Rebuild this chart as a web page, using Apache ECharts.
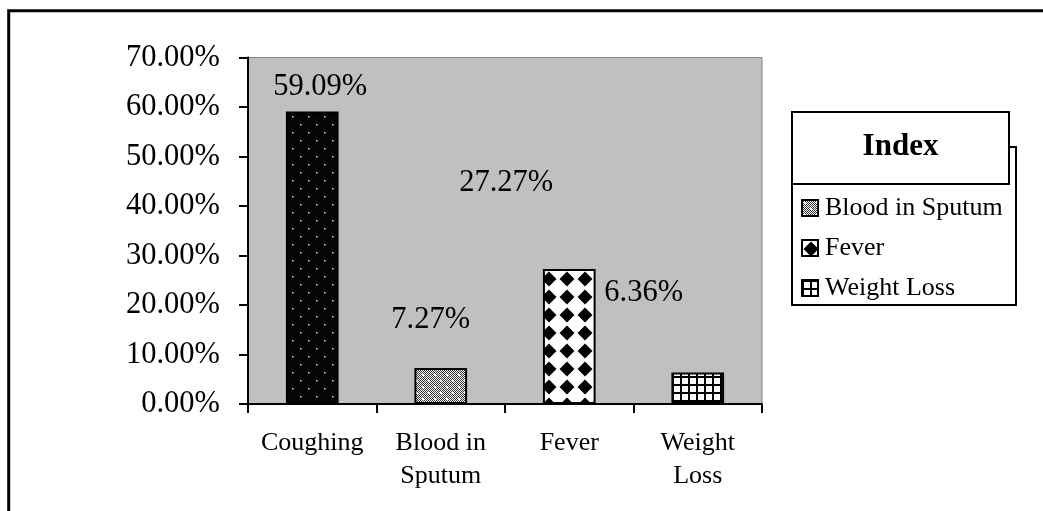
<!DOCTYPE html>
<html>
<head>
<meta charset="utf-8">
<style>
html,body{margin:0;padding:0;background:#fff;}
#chart{width:1043px;height:511px;}
</style>
<script src="https://cdn.jsdelivr.net/npm/echarts@6/dist/echarts.min.js"></script>
</head>
<body>
<div id="chart"></div>
<script>
// ---- data ----
const categories = ['Coughing', 'Blood in Sputum', 'Fever', 'Weight Loss'];
const axisLabels = ['Coughing', 'Blood in\nSputum', 'Fever', 'Weight\nLoss'];
const values = [59.09, 7.27, 27.27, 6.36];
const legendItems = ['Blood in Sputum', 'Fever', 'Weight Loss'];
const yMin = 0, yMax = 70, yInterval = 10;

// ---- style (label placement as drawn in the source) ----
const labelOffsets = [[8, -4], [-10, -28], [-63, -66], [-54, -59]];

function makeTile(w, h, draw) {
  const c = document.createElement('canvas');
  c.width = w; c.height = h;
  draw(c.getContext('2d'), w, h);
  return { image: c, repeat: 'repeat' };
}
const patterns = [
  // Coughing: black with sparse white dots
  makeTile(16, 16, (g, w, h) => {
    g.fillStyle = '#050505'; g.fillRect(0, 0, w, h);
    g.fillStyle = '#e0e0e0';
    g.fillRect(4, 4, 1.5, 1.5); g.fillRect(12, 12, 1.5, 1.5);
  }),
  // Blood in Sputum: fine checker with white dots
  makeTile(12, 12, (g, w, h) => {
    g.fillStyle = '#ffffff'; g.fillRect(0, 0, w, h);
    g.fillStyle = '#303030';
    for (let y = 0; y < h; y++) for (let x = 0; x < w; x++) if ((x + y) % 2 === 0) g.fillRect(x, y, 1, 1);
    g.fillStyle = '#ffffff';
    g.fillRect(2, 2, 2, 2); g.fillRect(8, 8, 2, 2);
  }),
  // Fever: diamonds
  makeTile(18, 18, (g, w, h) => {
    g.fillStyle = '#ffffff'; g.fillRect(0, 0, w, h);
    g.fillStyle = '#000000';
    g.beginPath();
    g.moveTo(9, 1.5); g.lineTo(16.5, 9); g.lineTo(9, 16.5); g.lineTo(1.5, 9); g.closePath();
    g.fill();
  }),
  // Weight Loss: grid
  makeTile(8, 8, (g, w, h) => {
    g.fillStyle = '#ffffff'; g.fillRect(0, 0, w, h);
    g.fillStyle = '#000000';
    g.fillRect(0, 0, 2, h); g.fillRect(0, 0, w, 2);
  })
];

const serif = '"Liberation Serif", "Times New Roman", serif';

const series = categories.map((name, i) => ({
  name: name,
  type: 'bar',
  stack: 'total',
  barWidth: '41%',
  data: categories.map((c, j) => (j === i ? values[i] : null)),
  itemStyle: { color: patterns[i], borderColor: '#000', borderWidth: 2 },
  label: {
    show: true,
    position: 'top',
    offset: labelOffsets[i],
    fontFamily: serif,
    fontSize: 30.5,
    color: '#000',
    formatter: p => p.value.toFixed(2) + '%'
  },
  emphasis: { disabled: true }
}));

const chart = echarts.init(document.getElementById('chart'));
chart.setOption({
  animation: false,
  backgroundColor: '#ffffff',
  grid: {
    left: 248, right: 281, top: 57.6, bottom: 107,
    show: true, backgroundColor: '#c0c0c0', borderColor: '#808080', borderWidth: 1
  },
  xAxis: {
    type: 'category',
    data: categories,
    axisLine: { show: true, lineStyle: { color: '#000', width: 2 } },
    axisTick: { show: true, interval: 0, length: 9, lineStyle: { color: '#000', width: 2 } },
    axisLabel: {
      interval: 0,
      margin: 22,
      fontFamily: serif, fontSize: 26, lineHeight: 33.5, color: '#000',
      formatter: (v, idx) => axisLabels[idx]
    }
  },
  yAxis: {
    type: 'value',
    min: yMin, max: yMax, interval: yInterval,
    axisLine: { show: true, lineStyle: { color: '#000', width: 2 } },
    axisTick: { show: true, length: 9, lineStyle: { color: '#000', width: 2 } },
    splitLine: { show: false },
    axisLabel: {
      margin: 28,
      fontFamily: serif, fontSize: 30.5, color: '#000',
      formatter: v => v.toFixed(2) + '%'
    }
  },
  legend: {
    data: legendItems,
    orient: 'vertical',
    left: 801, top: 195,
    padding: 0,
    itemWidth: 16, itemHeight: 16,
    itemGap: 14,
    icon: 'rect',
    selectedMode: false,
    textStyle: { fontFamily: serif, fontSize: 26, lineHeight: 26, color: '#000', padding: [0, 0, 0, 2] }
  },
  graphic: [
    { type: 'rect', z: 0, shape: { x: 8.7, y: 10.8, width: 1100, height: 600 },
      style: { fill: 'none', stroke: '#000', lineWidth: 3 } },
    { type: 'rect', z: 1, shape: { x: 792, y: 147, width: 224, height: 158 },
      style: { fill: '#fff', stroke: '#000', lineWidth: 2 } },
    { type: 'rect', z: 10, shape: { x: 792, y: 112, width: 217, height: 72 },
      style: { fill: '#fff', stroke: '#000', lineWidth: 2 } },
    { type: 'text', z: 11, x: 900.5, y: 147,
      style: { text: 'Index', fontFamily: serif, fontWeight: 'bold', fontSize: 31, fill: '#000',
               align: 'center', verticalAlign: 'middle' } }
  ],
  series: series
});
</script>
</body>
</html>
